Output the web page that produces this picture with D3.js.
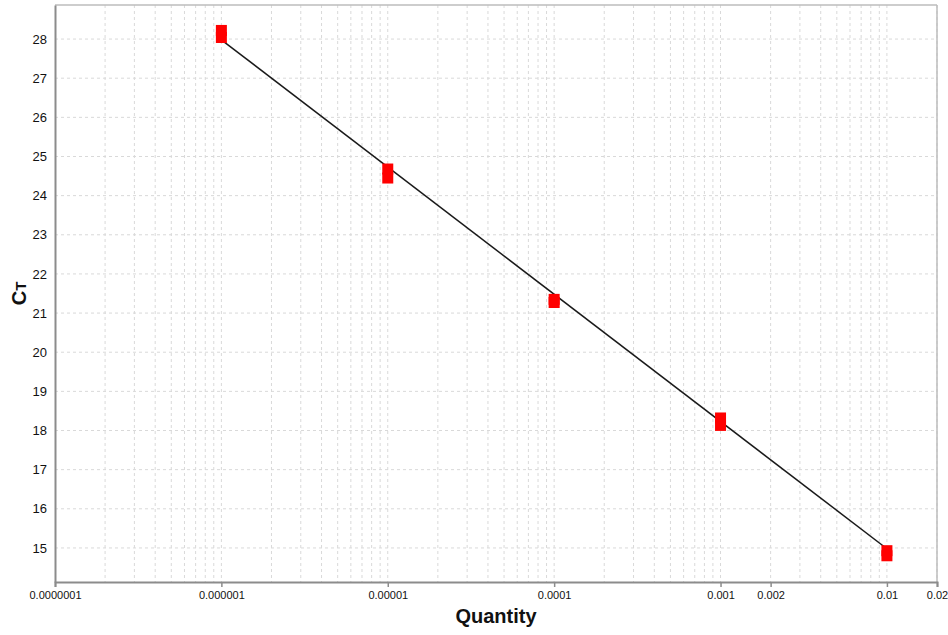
<!DOCTYPE html>
<html>
<head>
<meta charset="utf-8">
<script src="https://cdn.jsdelivr.net/npm/d3@7"></script>
<style>
  body { margin: 0; background: #fff; }
  svg { display: block; font-family: "Liberation Sans", Arial, sans-serif; }
</style>
</head>
<body>
<svg id="chart" width="948" height="635"></svg>
<script>
// standard curve data (two replicates per dilution)
var quantities = [0.000001, 0.00001, 0.0001, 0.001, 0.01];
var ctRep1 = [28.22, 24.68, 21.35, 18.32, 14.93];
var ctRep2 = [28.04, 24.45, 21.27, 18.13, 14.80];

// fitted standard curve
var fitX = [0.000001, 0.01];
var fitY = [27.98, 14.98];

var xTickValues = [0.0000001, 0.000001, 0.00001, 0.0001, 0.001, 0.002, 0.01, 0.02];
var xTickLabels = ['0.0000001', '0.000001', '0.00001', '0.0001', '0.001', '0.002', '0.01', '0.02'];
var yTickValues = [15, 16, 17, 18, 19, 20, 21, 22, 23, 24, 25, 26, 27, 28];

var width = 948, height = 635;
var margin = { top: 5, right: 11, bottom: 53, left: 55 };
var w = width - margin.left - margin.right;
var h = height - margin.top - margin.bottom;

var svg = d3.select('#chart');
var g = svg.append('g').attr('transform', 'translate(' + margin.left + ',' + margin.top + ')');

var xScale = d3.scaleLog().domain([0.0000001, 0.02]).range([0, w]);
var yScale = d3.scaleLinear().domain([14.13, 28.87]).range([h, 0]);

// minor grid: 1..9 per decade
var gridX = [];
d3.range(-7, -1).forEach(function(e){
    d3.range(1, 10).forEach(function(m){
        var v = m * Math.pow(10, e);
        if (v > 0.0000001 && v <= 0.02) gridX.push(v);
    });
});

g.append('g').selectAll('line').data(gridX).enter().append('line')
    .attr('x1', d => xScale(d)).attr('x2', d => xScale(d))
    .attr('y1', 0).attr('y2', h)
    .attr('stroke', '#d9d9d9').attr('stroke-width', 1).attr('stroke-dasharray', '3,3');

g.append('g').selectAll('line').data(yTickValues).enter().append('line')
    .attr('x1', 0).attr('x2', w)
    .attr('y1', d => yScale(d)).attr('y2', d => yScale(d))
    .attr('stroke', '#d9d9d9').attr('stroke-width', 1).attr('stroke-dasharray', '3,3');

// frame top / right
g.append('line').attr('x1', 0).attr('x2', w).attr('y1', 0).attr('y2', 0)
    .attr('stroke', '#bdbdbd').attr('stroke-width', 1.5);
g.append('line').attr('x1', w).attr('x2', w).attr('y1', 0).attr('y2', h)
    .attr('stroke', '#bdbdbd').attr('stroke-width', 1.5);

// axes
var xAxis = g.append('g').attr('transform', 'translate(0,' + h + ')')
    .call(d3.axisBottom(xScale).tickValues(xTickValues)
        .tickFormat((d, i) => xTickLabels[i]).tickSize(5).tickPadding(4));
var yAxis = g.append('g')
    .call(d3.axisLeft(yScale).tickValues(yTickValues).tickSize(0).tickPadding(8));

[xAxis, yAxis].forEach(function(a){
    a.select('.domain').attr('stroke', '#8c8c8c').attr('stroke-width', 2);
    a.selectAll('.tick line').attr('stroke', '#8c8c8c').attr('stroke-width', 1.5);
    a.selectAll('text').attr('fill', '#111').style('font-family', '"Liberation Sans", Arial, sans-serif');
});
xAxis.selectAll('text').style('font-size', '11px');
yAxis.selectAll('text').style('font-size', '13px');

// fitted line
var lineGen = d3.line().x(d => xScale(d[0])).y(d => yScale(d[1]));
g.append('path')
    .attr('d', lineGen(fitX.map((d, i) => [d, fitY[i]])))
    .attr('fill', 'none').attr('stroke', '#1a1a1a').attr('stroke-width', 1.5);

// replicate markers
var pts = [];
quantities.forEach(function(q, i){
    pts.push([q, ctRep1[i]]);
    pts.push([q, ctRep2[i]]);
});
var ms = 11;
g.append('g').selectAll('rect').data(pts).enter().append('rect')
    .attr('x', d => xScale(d[0]) - ms / 2)
    .attr('y', d => yScale(d[1]) - ms / 2)
    .attr('width', ms).attr('height', ms)
    .attr('fill', '#ff0000');

// titles
svg.append('text')
    .attr('x', margin.left + w / 2).attr('y', 623)
    .attr('text-anchor', 'middle')
    .style('font-size', '20px').style('font-weight', 'bold').attr('fill', '#111')
    .text('Quantity');

var yt = svg.append('text')
    .attr('transform', 'translate(26,' + (margin.top + h / 2) + ') rotate(-90)')
    .attr('text-anchor', 'middle')
    .style('font-weight', 'bold').attr('fill', '#111');
yt.append('tspan').style('font-size', '20px').text('C');
yt.append('tspan').style('font-size', '15px').text('T');
</script>
</body>
</html>
